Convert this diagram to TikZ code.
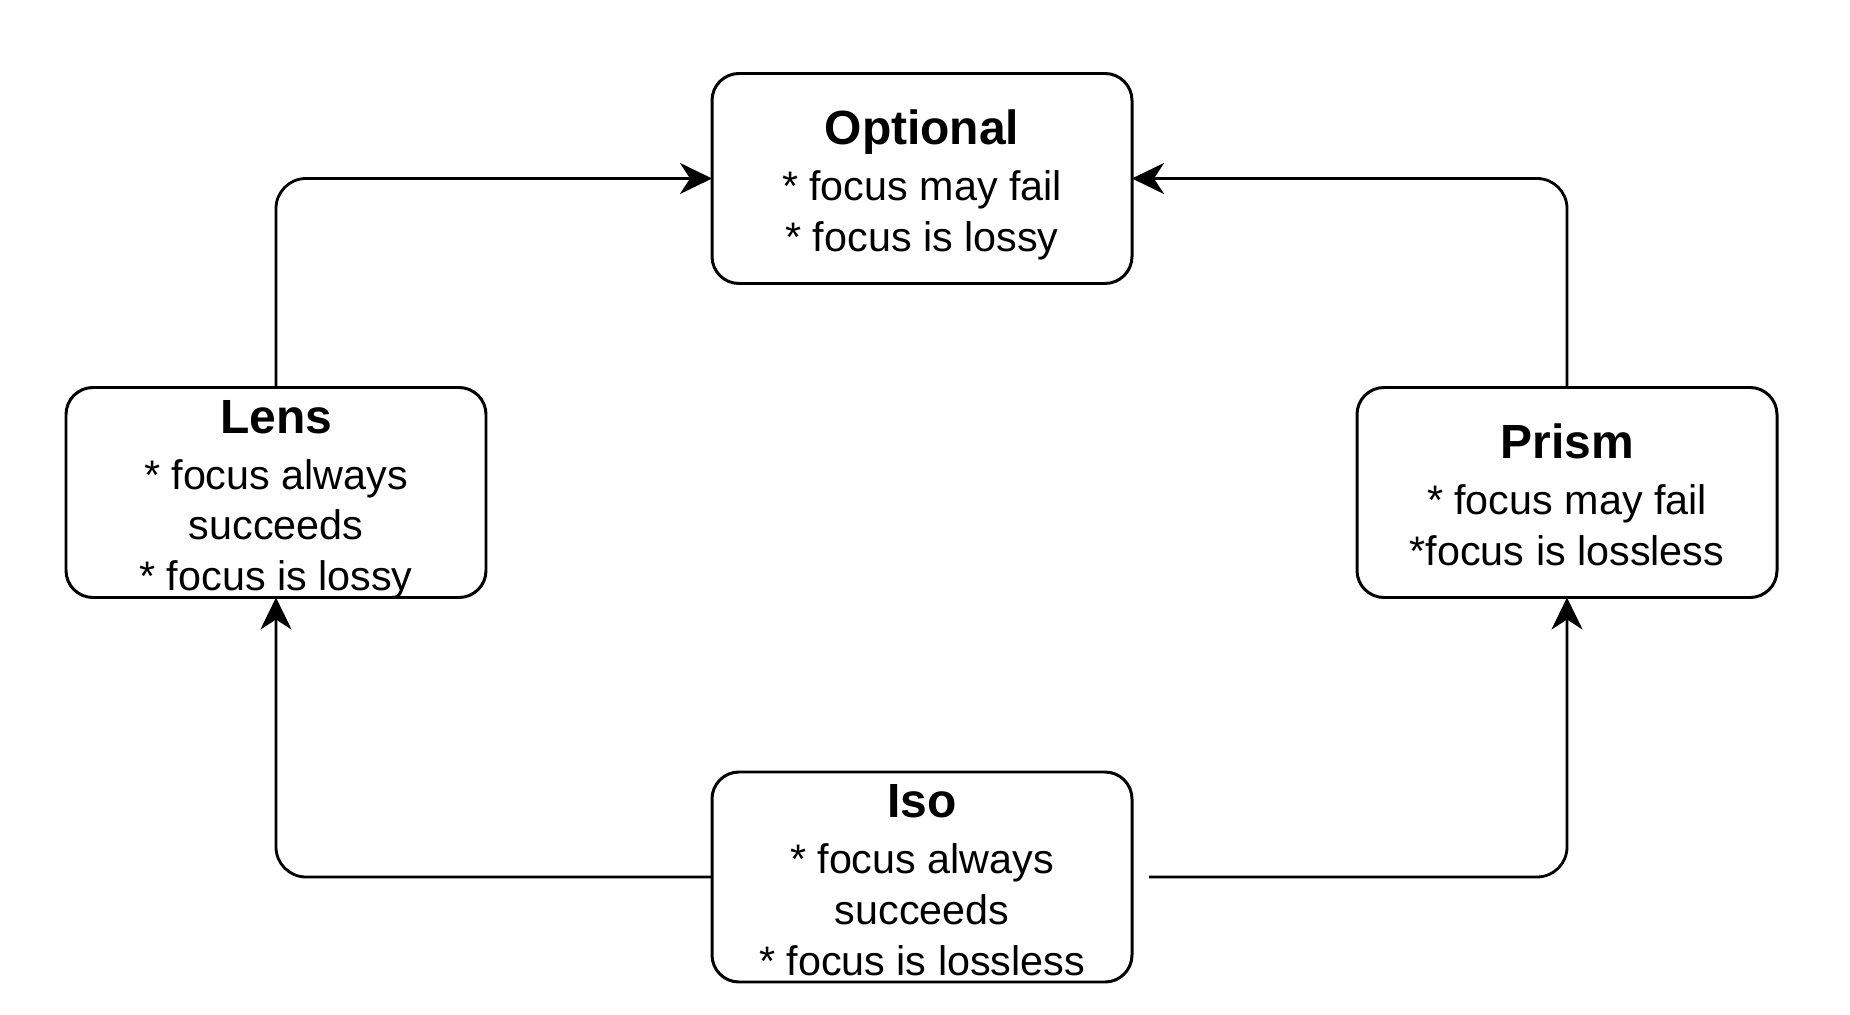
\documentclass[tikz,border=0pt]{standalone}
\usepackage{fontspec}
\setmainfont{Liberation Sans}
\usepgflibrary{arrows.meta}
\usetikzlibrary{positioning}
\newcommand{\optictitle}[1]{{\fontsize{27.3pt}{29pt}\selectfont\bfseries\rule{0pt}{0.98cm}#1}\\[0.1cm]}
\newcommand{\opticend}{\rule[-0.2cm]{0pt}{0pt}}

\begin{document}
\begin{tikzpicture}[optic node/.style={rectangle,draw,rounded corners=0.54cm,line width=1.7pt,minimum width=8.4cm,minimum height=4.2cm,inner xsep=0.,inner ysep=-0.2cm,outer sep=0.,align=center,font=\fontsize{23.5pt}{29pt}\selectfont},
  link/.style={line width=1.6pt,rounded corners=0.6cm,-{Stealth[length=0.64cm,width=0.62cm,inset=0.2cm]}}]%
  \useasboundingbox (0., 0.) rectangle (37., 20.28);
  \node[optic node] (optional) at (18.44, 16.71) {\optictitle{Optional}* focus may fail\\* focus is lossy\opticend};
  \node[optic node] (lens) at (5.52, 10.43) {\optictitle{Lens}* focus always\\succeeds\\* focus is lossy\opticend};
  \node[optic node] (prism) at (31.34, 10.43) {\optictitle{Prism}* focus may fail\\*focus is lossless\opticend};
  \node[optic node] (iso) at (18.44, 2.74) {\optictitle{Iso}* focus always\\succeeds\\* focus is lossless\opticend};
  \draw[link] (lens.north) |- (optional.west);
  \draw[link] (prism.north) |- (optional.east);
  \draw[link] (iso.west) -| (lens.south);
  \draw[link, shorten <=0.34cm] (iso.east) -| (prism.south);
\end{tikzpicture}
\end{document}
